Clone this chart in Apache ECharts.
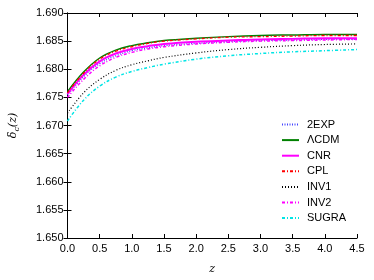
<!DOCTYPE html>
<html><head><meta charset="utf-8">
<script src="https://cdn.jsdelivr.net/npm/echarts@6/dist/echarts.min.js"></script>
<style>html,body{margin:0;padding:0;background:#fff}#c{width:374px;height:280px}</style>
</head><body><div id="c"></div>
<script>
var zValues = [0, 0.25, 0.5, 0.75, 1.0, 1.25, 1.5, 2.0, 2.5, 3.0, 3.5, 4.0, 4.5];
var twoEXP = [1.6754, 1.6787, 1.6810, 1.6824, 1.6833, 1.6838, 1.6842, 1.6846, 1.6849, 1.6851, 1.6852, 1.6853, 1.6853];
var lcdm   = [1.6760, 1.6795, 1.6820, 1.6834, 1.6842, 1.6847, 1.6851, 1.6855, 1.6858, 1.6860, 1.6861, 1.6862, 1.6862];
var cnr    = [1.6756, 1.6790, 1.6814, 1.6828, 1.6836, 1.6841, 1.6845, 1.6849, 1.6851, 1.6853, 1.6854, 1.6855, 1.6855];
var cpl    = [1.6758, 1.6793, 1.6818, 1.6832, 1.6840, 1.6846, 1.6850, 1.6854, 1.6857, 1.6858, 1.6859, 1.6860, 1.6860];
var inv1   = [1.6722, 1.6758, 1.6782, 1.6798, 1.6808, 1.6815, 1.6821, 1.6829, 1.6835, 1.6839, 1.6842, 1.6844, 1.6845];
var inv2   = [1.6750, 1.6782, 1.6806, 1.6821, 1.6830, 1.6836, 1.6840, 1.6845, 1.6848, 1.6850, 1.6851, 1.6852, 1.6853];
var sugra  = [1.6708, 1.6745, 1.6770, 1.6786, 1.6796, 1.6803, 1.6809, 1.6818, 1.6824, 1.6828, 1.6831, 1.6833, 1.6835];
var seriesNames = ['2EXP', 'ΛCDM', 'CNR', 'CPL', 'INV1', 'INV2', 'SUGRA'];
var yMin = 1.650, yMax = 1.690, yStep = 0.005;

function pairs(arr){ return zValues.map(function(z,i){ return [z, arr[i]]; }); }
var styles = [
  {color:'#4444ff', width:1.3, type:[1,1.5]},
  {color:'#008000', width:1.5, type:'solid'},
  {color:'#ff00ff', width:2.0, type:'solid'},
  {color:'#ff0000', width:1.3, type:[3,2,1,2]},
  {color:'#000000', width:1.2, type:[1,2]},
  {color:'#ff00ff', width:1.5, type:[3,2,1,2]},
  {color:'#00e5e5', width:1.5, type:[3,2,1,2]}
];
var datas = [twoEXP, lcdm, cnr, cpl, inv1, inv2, sugra];
var series = datas.map(function(d,i){
  return {
    name: seriesNames[i], type:'line', data: pairs(d), smooth: 0.4,
    showSymbol:false, symbol:'none',
    lineStyle:{color:styles[i].color, width:styles[i].width, type:styles[i].type},
    itemStyle:{color:styles[i].color},
    xAxisIndex:0, yAxisIndex:0, animation:false
  };
});
var font = 'Liberation Sans';
var axisLineStyle = {lineStyle:{color:'#000', width:1}};
var chart = echarts.init(document.getElementById('c'), null, {renderer:'canvas'});
chart.setOption({
  animation:false,
  grid:{left:61, right:17, top:13, bottom:42},
  xAxis:[{
    type:'value', min:0, max:4.5, interval:0.5, position:'bottom',
    axisLine:axisLineStyle,
    axisTick:{inside:true, length:4, lineStyle:{color:'#000'}},
    axisLabel:{color:'#000', fontFamily:font, fontSize:11, margin:5,
      formatter:function(v){ return v.toFixed(1); }},
    splitLine:{show:false},
    name:'z', nameLocation:'middle', nameGap:26,
    nameTextStyle:{fontFamily:'DejaVu Serif', fontStyle:'italic', fontSize:11, color:'#000'}
  },{
    type:'value', min:0, max:4.5, interval:0.5, position:'top',
    axisLine:axisLineStyle,
    axisTick:{inside:true, length:4, lineStyle:{color:'#000'}},
    axisLabel:{show:false}, splitLine:{show:false}
  }],
  yAxis:[{
    type:'value', min:yMin, max:yMax, interval:yStep, position:'left',
    axisLine:{show:true, lineStyle:{color:'#000', width:1}},
    axisTick:{show:true, inside:true, length:4, lineStyle:{color:'#000'}},
    axisLabel:{color:'#000', fontFamily:font, fontSize:11, margin:4,
      formatter:function(v){ return v.toFixed(3); }},
    splitLine:{show:false},
    name:'{d|δ}{s|c}{p|(z)}', nameLocation:'middle', nameGap:47,
    nameTextStyle:{rich:{
      d:{fontFamily:'DejaVu Serif', fontStyle:'italic', fontSize:11, color:'#000'},
      s:{fontFamily:'DejaVu Serif', fontStyle:'italic', fontSize:8, color:'#000', verticalAlign:'bottom', padding:[6,0,0,0]},
      p:{fontFamily:'DejaVu Serif', fontStyle:'italic', fontSize:11, color:'#000'}
    }}
  },{
    type:'value', min:yMin, max:yMax, interval:yStep, position:'right',
    axisLine:{show:true, lineStyle:{color:'#000', width:1}},
    axisTick:{show:true, inside:true, length:4, lineStyle:{color:'#000'}},
    axisLabel:{show:false}, splitLine:{show:false}
  }],
  legend:{
    orient:'vertical', left:276, top:114, itemWidth:17, itemHeight:12, itemGap:4.6,
    data: seriesNames,
    itemStyle:{opacity:0},
    textStyle:{fontFamily:font, fontSize:11, color:'#000', padding:[0,0,0,3]}
  },
  series: series
});
</script>
</body></html>
